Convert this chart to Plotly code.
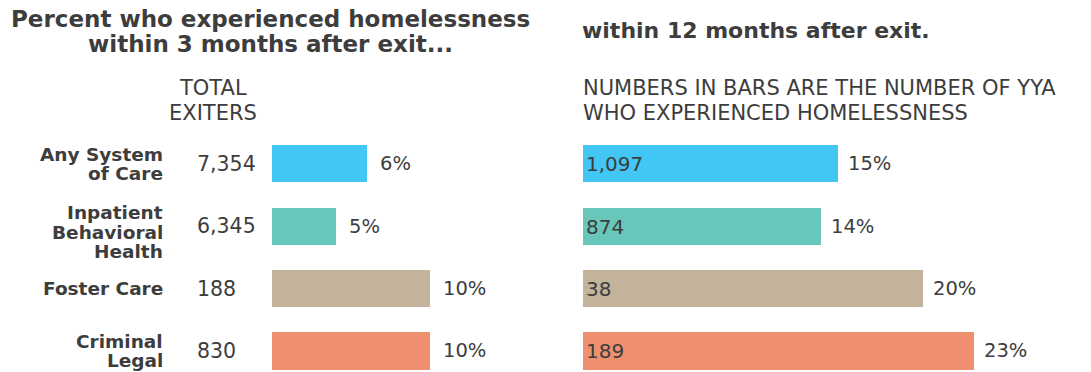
import plotly.graph_objects as go

# datos
categories = ["Any System of Care", "Inpatient Behavioral Health", "Foster Care", "Criminal Legal"]
category_lines = [["Any System", "of Care"], ["Inpatient", "Behavioral", "Health"], ["Foster Care"], ["Criminal", "Legal"]]
total_exiters = ["7,354", "6,345", "188", "830"]
pct_3_months = [6, 4.05, 10, 10]          # largo de barra tal como se ve
pct_3_labels = ["6%", "5%", "10%", "10%"]  # etiqueta impresa
pct_12_months = [15, 14, 20, 23]
pct_12_labels = ["15%", "14%", "20%", "23%"]
homeless_12_months = ["1,097", "874", "38", "189"]
bar_colors = ["#42C6F3", "#68C6BA", "#C3B39A", "#EE9070"]

W, H = 1091, 372
TXT = "#3d3d3d"
FONT = "DejaVu Sans"
label_nudge = {"Inpatient Behavioral Health": -6}  # px, la etiqueta va algo mas abajo

def px_x(p):
    return p / W

def px_y(p):
    return 1 - p / H

fig = go.Figure()

fig.add_trace(go.Bar(
    x=pct_3_months, y=categories, orientation="h",
    marker=dict(color=bar_colors, line=dict(width=0)),
    width=0.594, xaxis="x", yaxis="y", hoverinfo="skip"))

fig.add_trace(go.Bar(
    x=pct_12_months, y=categories, orientation="h",
    marker=dict(color=bar_colors, line=dict(width=0)),
    text=homeless_12_months, textposition="inside", insidetextanchor="start",
    textfont=dict(color=TXT, size=20, family=FONT),
    width=0.594, xaxis="x2", yaxis="y2", hoverinfo="skip"))

ann = []

# etiquetas de categoria (una anotacion por linea para controlar el interlineado)
for cat, lines in zip(categories, category_lines):
    n = len(lines)
    for i, line in enumerate(lines):
        ann.append(dict(x=px_x(165), xref="paper", y=cat, yref="y", text=line,
                        xanchor="right", yanchor="middle", showarrow=False,
                        yshift=((n - 1) / 2 - i) * 19.5 + label_nudge.get(cat, 0),
                        font=dict(size=18.5, color=TXT, family=FONT, weight="bold")))

for cat, n in zip(categories, total_exiters):
    ann.append(dict(x=px_x(195), xref="paper", y=cat, yref="y", text=n,
                    xanchor="left", yanchor="middle", showarrow=False,
                    font=dict(size=20.5, color=TXT, family=FONT)))

for cat, v, lab in zip(categories, pct_3_months, pct_3_labels):
    ann.append(dict(x=v, xref="x", y=cat, yref="y", text=lab, xanchor="left",
                    yanchor="middle", xshift=11, showarrow=False,
                    font=dict(size=19.5, color=TXT, family=FONT)))

for cat, v, lab in zip(categories, pct_12_months, pct_12_labels):
    ann.append(dict(x=v, xref="x2", y=cat, yref="y2", text=lab, xanchor="left",
                    yanchor="middle", xshift=8, showarrow=False,
                    font=dict(size=19.5, color=TXT, family=FONT)))

# titulos
title_l = dict(size=23, color=TXT, family=FONT, weight="bold")
title_r = dict(size=22, color=TXT, family=FONT, weight="bold")
light = dict(size=21, color=TXT, family=FONT)
for text, x, y, anchor, f in [
    ("Percent who experienced homelessness", 270, 19.5, "center", title_l),
    ("within 3 months after exit...", 270, 43.5, "center", title_l),
    ("within 12 months after exit.", 580, 30, "left", title_r),
    ("TOTAL", 212.5, 88, "center", light),
    ("EXITERS", 212.5, 113, "center", light),
    ("NUMBERS IN BARS ARE THE NUMBER OF YYA", 581, 88, "left", light),
    ("WHO EXPERIENCED HOMELESSNESS", 581, 113, "left", light),
]:
    ann.append(dict(x=px_x(x), y=px_y(y), xref="paper", yref="paper", text=text,
                    xanchor=anchor, yanchor="middle", showarrow=False, font=f))

y_range = [3.337, -0.545]
fig.update_layout(
    width=W, height=H,
    margin=dict(l=0, r=0, t=0, b=0),
    plot_bgcolor="white", paper_bgcolor="white",
    showlegend=False, bargap=0,
    font=dict(family=FONT, color=TXT),
    annotations=ann,
    xaxis=dict(domain=[px_x(272), px_x(540)], range=[0, 268 / 15.8], visible=False),
    xaxis2=dict(domain=[px_x(583), 1], range=[0, 508 / 17.0], visible=False),
    yaxis=dict(domain=[0, px_y(130)], range=y_range, visible=False,
               categoryorder="array", categoryarray=categories),
    yaxis2=dict(domain=[0, px_y(130)], range=y_range, visible=False, anchor="x2",
                categoryorder="array", categoryarray=categories),
)

# quitar el margen por defecto del body para que la figura quede en (0, 0)
fig.write_html("out.html", config={"displayModeBar": False},
               post_script="document.body.style.margin='0';")
